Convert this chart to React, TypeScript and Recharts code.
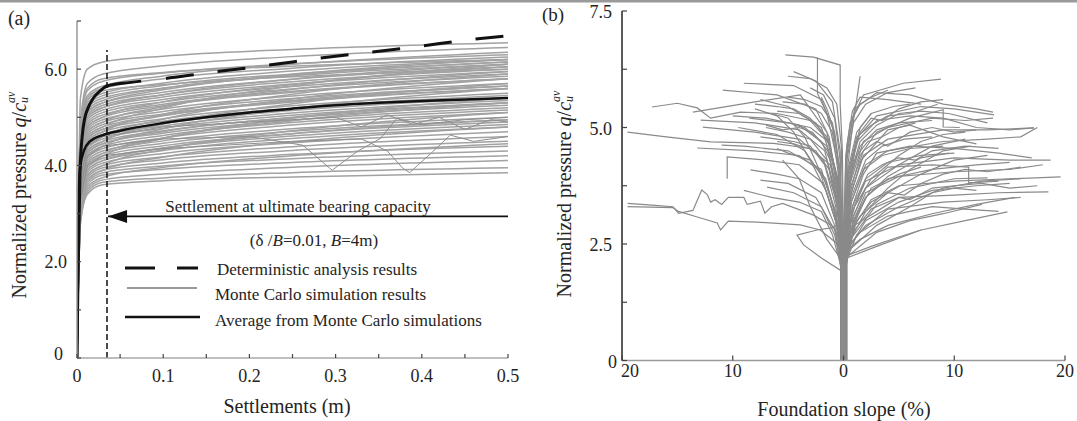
import React from 'react';
import { LineChart, Line, XAxis, YAxis } from 'recharts';

const FONT = '"Liberation Serif", "Times New Roman", serif';
const TEXT = '#242424';

// ---------- Panel (a): pressure vs settlement ----------
const settlementTicks = [0, 0.05, 0.1, 0.15, 0.2, 0.25, 0.3, 0.35, 0.4, 0.45, 0.5];
const settlementTickLabels = ['0', '', '0.1', '', '0.2', '', '0.3', '', '0.4', '', '0.5'];
const pressureTicksA = [0, 1, 2, 3, 4, 5, 6, 7];
const pressureTickLabelsA = ['0', '', '2.0', '', '4.0', '', '6.0', ''];

const monteCarloSettlements = [0, 0.004, 0.012, 0.03, 0.1, 0.25, 0.5];
const monteCarloPressures: number[][] = [
  [0, 5.4, 6.0, 6.15, 6.27, 6.41, 6.55],
  [0, 4.9, 5.7, 5.9, 6.07, 6.26, 6.45],
  [0, 4.8, 5.55, 5.75, 5.92, 6.11, 6.3],
  [0, 4.7, 5.4, 5.6, 5.8, 6.02, 6.25],
  [0, 4.6, 5.3, 5.5, 5.71, 5.96, 6.2],
  [0, 4.6, 5.25, 5.45, 5.66, 5.9, 6.15],
  [0, 4.5, 5.2, 5.4, 5.61, 5.86, 6.1],
  [0, 4.4, 5.1, 5.3, 5.52, 5.79, 6.05],
  [0, 4.4, 5.05, 5.25, 5.47, 5.74, 6.0],
  [0, 4.3, 5.0, 5.2, 5.42, 5.69, 5.95],
  [0, 4.3, 4.95, 5.15, 5.37, 5.64, 5.9],
  [0, 4.2, 4.9, 5.1, 5.32, 5.59, 5.85],
  [0, 4.2, 4.85, 5.05, 5.27, 5.54, 5.8],
  [0, 4.1, 4.8, 5.0, 5.24, 5.52, 5.8],
  [0, 4.1, 4.75, 4.95, 5.17, 5.44, 5.7],
  [0, 4.0, 4.7, 4.9, 5.12, 5.39, 5.65],
  [0, 4.0, 4.65, 4.85, 5.07, 5.34, 5.6],
  [0, 3.9, 4.6, 4.8, 5.04, 5.32, 5.6],
  [0, 3.9, 4.55, 4.75, 4.97, 5.24, 5.5],
  [0, 3.8, 4.5, 4.7, 4.92, 5.19, 5.45],
  [0, 3.8, 4.45, 4.65, 4.87, 5.14, 5.4],
  [0, 3.7, 4.4, 4.6, 4.82, 5.09, 5.35],
  [0, 3.7, 4.35, 4.55, 4.77, 5.04, 5.3],
  [0, 3.6, 4.3, 4.5, 4.72, 4.99, 5.25],
  [0, 3.6, 4.25, 4.45, 4.67, 4.94, 5.2],
  [0, 3.5, 4.2, 4.4, 4.62, 4.89, 5.15],
  [0, 3.5, 4.15, 4.35, 4.57, 4.84, 5.1],
  [0, 3.4, 4.1, 4.3, 4.51, 4.76, 5.0],
  [0, 3.4, 4.05, 4.25, 4.46, 4.71, 4.95],
  [0, 3.3, 4.0, 4.2, 4.41, 4.66, 4.9],
  [0, 3.3, 3.95, 4.15, 4.36, 4.61, 4.85],
  [0, 3.2, 3.9, 4.1, 4.31, 4.56, 4.8],
  [0, 3.2, 3.85, 4.05, 4.25, 4.47, 4.7],
  [0, 3.1, 3.8, 4.0, 4.18, 4.39, 4.6],
  [0, 3.1, 3.75, 3.95, 4.12, 4.31, 4.5],
  [0, 3.0, 3.7, 3.9, 4.05, 4.23, 4.4],
  [0, 3.0, 3.65, 3.85, 3.99, 4.14, 4.3],
  [0, 2.9, 3.6, 3.8, 3.92, 4.06, 4.2],
  [0, 2.9, 3.5, 3.7, 3.82, 3.96, 4.1],
  [0, 2.8, 3.45, 3.65, 3.74, 3.85, 3.95],
  [0, 2.8, 3.4, 3.6, 3.68, 3.76, 3.85],
  [0, 4.6, 5.35, 5.55, 5.68, 5.84, 6.0],
  [0, 4.1, 4.8, 5.0, 5.32, 5.68, 6.05],
  [0, 3.7, 4.4, 4.6, 4.96, 5.38, 5.8],
  [0, 3.3, 4.0, 4.2, 4.56, 4.98, 5.4],
  [0, 4.0, 4.7, 4.9, 5.22, 5.58, 5.95],
  [0, 3.5, 4.2, 4.4, 4.76, 5.18, 5.6],
  [0, 3.9, 4.6, 4.8, 5.19, 5.65, 6.1],
  [0, 4.4, 5.1, 5.3, 5.57, 5.89, 6.2],
  [0, 3.1, 3.8, 4.0, 4.33, 4.72, 5.1],
  [0, 3.0, 3.7, 3.9, 4.17, 4.49, 4.8],
  [0, 4.7, 5.45, 5.65, 5.86, 6.1, 6.35],
  [0, 3.6, 4.3, 4.5, 4.86, 5.28, 5.7],
  [0, 3.8, 4.5, 4.7, 5.06, 5.48, 5.9],
  [0, 4.8, 5.6, 5.8, 5.93, 6.06, 6.2],
  [0, 3.4, 4.05, 4.25, 4.57, 4.93, 5.3],
  [0, 2.9, 3.55, 3.75, 3.96, 4.2, 4.45],
  [0, 4.3, 5.0, 5.2, 5.47, 5.79, 6.1],
  [0, 4.5, 5.15, 5.35, 5.6, 5.88, 6.15],
  [0, 3.9, 4.55, 4.75, 5.03, 5.35, 5.65],
  [0, 3.6, 4.25, 4.45, 4.7, 5.0, 5.3],
  [0, 3.2, 3.9, 4.1, 4.36, 4.66, 4.95],
];

const wigglySettlements1 = [0, 0.004, 0.012, 0.03, 0.1, 0.2, 0.262, 0.296, 0.325, 0.352, 0.371, 0.4, 0.45, 0.5];
const wigglyPressures1 = [0, 3.5, 4.2, 4.4, 4.55, 4.6, 4.42, 3.9, 4.29, 4.56, 4.98, 4.85, 4.95, 5.0];
const wigglySettlements2 = [0, 0.004, 0.012, 0.03, 0.1, 0.25, 0.33, 0.36, 0.378, 0.386, 0.395, 0.413, 0.433, 0.46, 0.5];
const wigglyPressures2 = [0, 3.3, 4.0, 4.2, 4.35, 4.5, 4.55, 4.3, 3.94, 3.85, 4.0, 4.29, 4.63, 4.5, 4.6];
const wigglySettlements3 = [0, 0.004, 0.012, 0.03, 0.1, 0.3, 0.33, 0.36, 0.39, 0.42, 0.45, 0.48, 0.5];
const wigglyPressures3 = [0, 3.7, 4.4, 4.6, 4.8, 5.0, 4.8, 5.05, 4.85, 5.0, 4.75, 4.95, 4.9];

const averageSettlements = [0, 0.002, 0.004, 0.008, 0.015, 0.03, 0.05, 0.1, 0.15, 0.2, 0.25, 0.3, 0.35, 0.4, 0.45, 0.5];
const averagePressures = [0, 3.5, 4.0, 4.3, 4.5, 4.63, 4.72, 4.88, 5.0, 5.1, 5.18, 5.25, 5.3, 5.34, 5.37, 5.4];

const deterministicSettlements = [0, 0.001, 0.0035, 0.006, 0.009, 0.013, 0.019, 0.027, 0.035, 0.06, 0.1, 0.15, 0.2, 0.25, 0.3, 0.35, 0.4, 0.45, 0.5];
const deterministicPressures = [0, 1.5, 3.87, 4.6, 4.98, 5.2, 5.4, 5.55, 5.65, 5.72, 5.8, 5.92, 6.03, 6.15, 6.27, 6.37, 6.48, 6.6, 6.69];

const ultimateSettlement = [0.0348, 0.0348];
const ultimateMarkerPressure = [0, 6.4];
const arrowSettlements = [0.5, 0.036];
const arrowPressures = [2.94, 2.94];

// ---------- Panel (b): pressure vs foundation slope ----------
const slopeTicks = [-20, -10, 0, 10, 20];
const slopeTickLabels = ['20', '10', '0', '10', '20'];
const pressureTicksB = [0, 1.25, 2.5, 3.75, 5, 6.25, 7.5];
const pressureTickLabelsB = ['0', '', '2.5', '', '5.0', '', '7.5'];

const slopeRunsLeft: number[][][] = [
  [[0, 0], [0, 2.2], [-0.4, 3.4], [-1.2, 4.2], [-3, 4.55], [-6.3, 4.66], [-12, 4.69], [-16, 4.8], [-19.5, 4.9]],
  [[-0.2, 0], [-0.2, 2.3], [-0.5, 3.8], [-1.3, 4.7], [-3, 5.15], [-6, 5.3], [-9.3, 5.33], [-12, 5.2], [-13.2, 5.42], [-15, 5.52], [-17.3, 5.44]],
  [[-0.2, 0], [-0.2, 2.5], [-0.9, 2.87], [-2.7, 3.12], [-5.5, 3.37], [-6.5, 3.3], [-7.1, 3.16], [-7.5, 3.42], [-8.7, 3.35], [-9, 3.5], [-10.4, 3.5], [-11, 3.35], [-11.6, 3.45], [-12, 3.4], [-12.3, 3.56], [-12.8, 3.66], [-13.2, 3.44], [-13.6, 3.22], [-14.9, 3.16], [-15.4, 3.3], [-17, 3.33], [-19.5, 3.37]],
  [[0, 0], [0, 2.4], [-2.1, 2.8], [-3.9, 2.91], [-7.8, 2.97], [-10.4, 2.99], [-11.1, 2.8], [-11.4, 2.95], [-13.2, 3.08], [-14.9, 3.2], [-15.4, 3.28], [-19.5, 3.3]],
  [[0.2, 0], [0.2, 1.9], [-0.3, 1.94], [-2, 2.2], [-3.6, 2.48], [-4.2, 2.69], [-2.4, 2.8], [-1, 2.85], [0, 3.0]],
  [[0, 0], [0, 2.4], [-0.1, 4.5], [-0.3, 5.5], [-0.3, 6.34], [-2.7, 6.51], [-5.25, 6.56]],
  [[-0.2, 0], [-0.2, 2.3], [-0.5, 4.2], [-1.5, 5.3], [-2.35, 5.73], [-2.35, 6.51]],
  [[0, 0], [0, 2.2], [-0.3, 4.0], [-1, 5.0], [-2, 5.6], [-4.5, 5.9], [-9, 5.95]],
  [[-0.2, 0], [-0.2, 2.0], [-0.6, 3.8], [-1.3, 4.8], [-2.5, 5.4], [-6, 5.7], [-10.9, 5.8]],
  [[0, 0], [0, 2.1], [-0.5, 3.8], [-1.5, 4.9], [-3.9, 5.7], [-8, 5.55], [-13.6, 5.33]],
  [[-0.2, 0], [-0.2, 2.0], [-0.6, 3.5], [-1.7, 4.5], [-4, 4.95], [-8, 5.1], [-12.9, 5.16]],
  [[0, 0], [0, 2.1], [-0.6, 3.4], [-1.8, 4.3], [-4, 4.75], [-8, 4.9], [-12.7, 5.01]],
  [[-0.2, 0], [-0.2, 2.0], [-0.7, 3.2], [-2, 4.05], [-4, 4.4], [-8, 4.5], [-13.2, 4.56]],
  [[0, 0], [0, 2.0], [-0.7, 3.0], [-1.8, 3.8], [-4, 4.2], [-7, 4.3], [-10.5, 4.37], [-10.5, 3.9]],
  [[-0.2, 0], [-0.2, 1.9], [-0.8, 2.9], [-2, 3.6], [-4, 3.9], [-6, 4.0], [-8.4, 4.09]],
  [[0, 0], [0, 2.0], [-0.8, 2.8], [-2.5, 3.5], [-5, 3.8], [-7.5, 3.87]],
  [[-0.2, 0], [-0.2, 2.0], [-0.8, 2.7], [-2, 3.3], [-4.5, 3.6], [-6.9, 3.72]],
  [[0, 0], [0, 2.2], [-0.7, 3.0], [-1.5, 3.6], [-3, 4.3], [-4.5, 4.9], [-6, 5.25], [-8, 5.4]],
  [[-0.2, 0], [-0.2, 2.2], [-0.6, 2.9], [-1.4, 3.5], [-2.2, 4.1], [-3.5, 4.8], [-5, 5.2], [-6.5, 5.3]],
  [[0, 0], [0, 2.1], [-0.6, 3.0], [-1.5, 3.8], [-3.5, 4.5], [-6, 4.85], [-9.5, 5.0]],
  [[-0.2, 0], [-0.2, 2.4], [-0.3, 4.5], [-1, 5.55], [-2.5, 6.0], [-4.5, 6.2]],
  [[0, 0], [0, 2.2], [-0.4, 3.8], [-2, 5.0], [-5, 5.45], [-7.5, 5.6]],
  [[-0.2, 0], [-0.2, 2.0], [-0.8, 3.2], [-2, 4.1], [-5, 4.5], [-9, 4.6], [-11, 4.62]],
  [[0, 0], [0, 2.1], [-1.5, 2.6], [-3, 3.3], [-4, 3.9], [-5.5, 4.3]],
  [[-0.2, 0], [-0.2, 2.2], [-0.5, 3.6], [-1.5, 4.6], [-4, 5.05], [-7, 5.2], [-10, 5.25]],
  [[0, 0], [0, 2.3], [-0.2, 4.6], [-0.6, 5.5], [-1.5, 5.85], [-3, 6.05], [-5, 6.1]],
  [[-0.2, 0], [-0.2, 2.0], [-1, 2.7], [-2, 3.2], [-4, 3.4], [-6.5, 3.5], [-9, 3.65]],
  [[0, 0], [0, 2.2], [-0.3, 4.0], [-0.8, 4.9], [-1.5, 5.4], [-2, 5.65]],
  [[-0.2, 0], [-0.2, 2.1], [-0.5, 3.6], [-1.2, 4.6], [-2.5, 5.1], [-4, 5.3], [-6, 5.35]],
  [[0, 0], [0, 2.0], [-0.5, 3.3], [-1.5, 4.3], [-3, 4.75], [-5, 4.9], [-7, 5.0]],
  [[-0.2, 0], [-0.2, 2.2], [-0.4, 3.9], [-1, 4.9], [-2, 5.3], [-3.5, 5.5], [-5.5, 5.55]],
  [[0, 0], [0, 2.1], [-0.6, 3.3], [-1.3, 4.1], [-2.5, 4.5], [-4.5, 4.65], [-6, 4.7]],
  [[-0.2, 0], [-0.2, 2.3], [-0.3, 4.3], [-0.8, 5.2], [-1.8, 5.7], [-3, 5.85]],
  [[0, 0], [0, 2.0], [-0.7, 3.1], [-1.6, 3.9], [-3, 4.3], [-5, 4.45], [-6, 4.55]],
  [[-0.2, 0], [-0.2, 2.2], [-0.5, 3.7], [-1.4, 4.7], [-3, 5.0], [-5, 5.1], [-8.5, 5.2]],
  [[0, 0], [0, 2.0], [-0.6, 3.4], [-1.2, 4.3], [-2, 4.7], [-3.5, 5.0], [-4.5, 5.05]],
  [[0, 0], [0, 2.2], [-0.5, 3.9], [-1.5, 4.8], [-3, 5.2], [-4.5, 5.4], [-6, 5.45], [-8, 5.5]],
  [[-0.2, 0], [-0.2, 2.1], [-0.6, 3.6], [-1.4, 4.5], [-2.8, 4.9], [-4, 5.0], [-5.5, 4.95], [-7, 5.05]],
  [[0, 0], [0, 2.3], [-0.4, 4.2], [-1, 5.1], [-2, 5.45], [-3.5, 5.6], [-5, 5.65]],
  [[-0.2, 0], [-0.2, 2.0], [-0.7, 3.3], [-1.7, 4.2], [-3, 4.6], [-4.5, 4.7], [-6, 4.75], [-7.5, 4.8]],
];

const slopeRunsRight: number[][][] = [
  [[0, 0], [0, 2.3], [0.2, 4.2], [0.8, 5.2], [1.8, 5.7], [5.4, 5.95], [8.8, 6.04]],
  [[0.2, 0], [0.2, 2.2], [0.5, 3.9], [1.3, 4.8], [3, 5.25], [7, 5.45], [10, 5.4], [13.6, 5.27]],
  [[0, 0], [0, 2.1], [0.6, 3.8], [1.8, 4.7], [4, 5.0], [8, 5.2], [11, 5.15], [13.5, 5.2]],
  [[0.2, 0], [0.2, 2.0], [0.7, 3.6], [1.8, 4.4], [4, 4.75], [9, 4.95], [13, 4.95], [17.2, 4.99]],
  [[0, 0], [0, 2.1], [0.7, 3.4], [2, 4.2], [4, 4.5], [9, 4.7], [13, 4.75], [16, 4.8], [17.5, 5.0]],
  [[0.2, 0], [0.2, 2.0], [0.8, 3.2], [2, 3.85], [5, 4.2], [10, 4.35], [15, 4.3], [18.7, 4.3]],
  [[0, 0], [0, 2.0], [0.9, 3.0], [2, 3.6], [5, 3.95], [10, 4.05], [15, 4.1], [18, 4.2]],
  [[0.2, 0], [0.2, 2.0], [1, 2.9], [2.5, 3.45], [5, 3.75], [10, 3.85], [15, 3.9], [19.6, 3.94]],
  [[0, 0], [0, 2.1], [1, 2.8], [2.5, 3.25], [5, 3.5], [10, 3.55], [14, 3.6], [18.5, 3.62]],
  [[0.2, 0], [0.2, 2.1], [1.2, 2.7], [4, 3.25], [9, 3.4], [13, 3.45], [16, 3.5]],
  [[0.3, 0], [0.3, 2.2], [3, 2.45], [7, 2.8], [11, 3.0], [14.8, 3.19]],
  [[0.3, 0], [0.3, 2.25], [2.5, 2.45], [5, 2.65], [7, 2.8]],
  [[0, 0], [0, 2.3], [1.5, 2.6], [4, 2.9], [8, 3.15], [12, 3.35], [15.5, 3.5]],
  [[0.2, 0], [0.2, 2.4], [1.5, 2.75], [4, 3.1], [8, 3.3], [11, 3.25], [14, 3.2]],
  [[0, 0], [0, 2.3], [0.3, 4.3], [0.9, 5.1], [2, 5.5], [4, 5.75], [6.5, 5.85]],
  [[0.2, 0], [0.2, 2.4], [0.3, 4.6], [0.8, 5.35], [1.5, 5.65], [4, 5.6], [7, 5.5]],
  [[0, 0], [0, 2.1], [0.6, 3.6], [1.5, 4.4], [3, 4.9], [6, 5.2], [9, 5.38], [9, 5.01], [10.5, 5.0]],
  [[0.2, 0], [0.2, 2.0], [0.9, 3.1], [2, 3.7], [4, 4.15], [8, 4.2], [11.3, 4.15], [11.3, 3.81], [14, 3.85]],
  [[0, 0], [0, 2.0], [0.9, 3.0], [2, 3.5], [4, 3.9], [8, 4.1], [12, 4.2], [15, 4.25]],
  [[0.2, 0], [0.2, 2.2], [0.4, 4.0], [1.2, 4.7], [3, 5.15], [6, 5.25], [9, 5.2], [12, 5.0], [15, 4.95], [17.2, 4.99]],
  [[0, 0], [0, 2.6], [2, 3.7], [5, 4.2], [8, 4.6], [11, 4.75]],
  [[0.2, 0], [0.2, 2.5], [2, 3.5], [4, 3.95], [7, 4.35], [9.5, 4.45]],
  [[0, 0], [0, 2.4], [3, 3.35], [6, 3.7], [10, 3.9], [13, 3.92]],
  [[0.2, 0], [0.2, 2.2], [3, 2.75], [6, 3.0], [9, 3.15], [12.5, 3.35]],
  [[0, 0], [0, 2.2], [0.5, 3.9], [1.5, 4.7], [3, 5.05], [5, 5.3], [7, 5.35], [9.5, 5.3], [13, 5.1]],
  [[0.2, 0], [0.2, 2.0], [0.8, 3.3], [1.8, 4.0], [3, 4.45], [6, 4.6], [10, 4.55], [14, 4.45], [17, 4.35]],
  [[0, 0], [0, 2.1], [0.6, 3.5], [1.6, 4.3], [4, 4.95], [6, 5.05], [9, 4.8], [12, 4.65]],
  [[0.2, 0], [0.2, 2.3], [2, 3.0], [5, 3.4], [8, 3.65], [12, 3.75], [15, 3.8]],
  [[0, 0], [0, 2.4], [0.2, 4.4], [0.6, 5.1], [1.5, 5.5], [2.5, 5.65], [4, 5.8]],
  [[0.2, 0], [0.2, 2.3], [0.4, 4.2], [0.8, 5.0], [1.2, 5.6], [1.5, 6.1]],
  [[0, 0], [0, 2.2], [0.5, 3.6], [1, 4.5], [1.5, 5.0], [2.5, 5.3]],
  [[0, 0], [0, 2.2], [0.5, 3.8], [1.5, 4.6], [3, 4.95], [5, 5.1], [8, 5.15]],
  [[0.2, 0], [0.2, 2.1], [0.7, 3.4], [1.8, 4.1], [3.5, 4.4], [6, 4.55], [9, 4.6]],
  [[0, 0], [0, 2.0], [0.8, 3.2], [2, 3.9], [4, 4.25], [7, 4.4], [10, 4.45]],
  [[0.2, 0], [0.2, 2.2], [0.4, 4.1], [1.2, 4.9], [2.5, 5.3], [4.5, 5.45], [6, 5.5]],
  [[0, 0], [0, 2.1], [0.7, 3.5], [2, 4.3], [3.5, 4.6], [5.5, 4.75], [8, 4.8]],
  [[0.2, 0], [0.2, 2.0], [1, 3.0], [2.5, 3.7], [5, 4.0], [7, 4.15]],
  [[0, 0], [0, 2.2], [0.4, 4.0], [1.2, 4.8], [2.5, 5.05], [4, 5.25], [6, 5.3], [8.5, 5.5]],
  [[0.2, 0], [0.2, 2.3], [3, 2.9], [6, 3.3], [8, 3.6], [10, 3.7], [12, 3.65]],
  [[0, 0], [0, 2.5], [1.5, 3.1], [4, 3.6], [7, 4.0], [10, 4.3], [13, 4.4]],
  [[0.2, 0], [0.2, 2.4], [2, 3.2], [4, 3.7], [6, 4.1], [9, 4.5], [11.5, 4.6]],
  [[0, 0], [0, 2.3], [2, 2.9], [5, 3.3], [9, 3.7], [12.5, 3.85], [16, 3.9]],
  [[0.2, 0], [0.2, 2.3], [0.3, 4.5], [1, 5.4], [3, 5.75], [6, 5.7], [9, 5.5], [12, 5.4], [13.5, 5.33]],
  [[0, 0], [0, 2.2], [0.5, 4.0], [1.5, 4.9], [2.5, 5.2], [3.5, 5.15], [5, 5.4], [7, 5.55], [9, 5.6]],
  [[0.2, 0], [0.2, 2.1], [0.6, 3.7], [1.8, 4.5], [3, 4.7], [4, 4.6], [6, 4.9], [8, 5.0], [10, 4.9], [12, 4.95]],
  [[0, 0], [0, 2.0], [0.8, 3.3], [2.2, 4.0], [3.5, 4.2], [5, 4.35], [6.5, 4.3], [8, 4.5], [11, 4.6], [14, 4.55]],
  [[0.2, 0], [0.2, 2.2], [1.2, 3.0], [2.5, 3.4], [4, 3.6], [5.5, 3.55], [7, 3.8], [9, 4.0], [11, 4.1], [13, 4.05], [16, 4.15]],
  [[0, 0], [0, 2.4], [1, 2.9], [3, 3.2], [5, 3.5], [6, 3.45], [8, 3.7], [10, 3.75], [12.5, 3.8], [15, 3.7], [17.5, 3.75]],
  [[0.2, 0], [0.2, 2.6], [1, 3.3], [2.5, 3.9], [3.5, 4.1], [5, 4.4], [7, 4.7], [9, 4.85], [11, 4.9]],
  [[0, 0], [0, 2.2], [0.5, 3.8], [1.2, 4.4], [2.2, 4.7], [3.5, 4.8], [5, 5.0], [6.5, 5.1]],
];

// ---------- helpers ----------
type Pt = { x: number; y: number };
const zip = (xs: number[], ys: number[]): Pt[] => xs.map((x, i) => ({ x, y: ys[i] }));
const fromPairs = (pairs: number[][]): Pt[] => pairs.map(([x, y]) => ({ x, y }));

function makeXTick(ticks: number[], labels: string[], baselineDy: number, tickLen: number, firstDx: number, tickColor: string) {
  return (props: any) => {
    const { x, y, payload } = props;
    const i = ticks.indexOf(payload.value);
    const label = labels[i] ?? '';
    return (
      <g>
        <line x1={x} x2={x} y1={y} y2={y - tickLen} stroke={tickColor} strokeWidth={1.2} />
        {label ? (
          <text x={x + (i === 0 ? firstDx : 0)} y={y + baselineDy} textAnchor="middle" fontFamily={FONT} fontSize={18} fill={TEXT}>
            {label}
          </text>
        ) : null}
      </g>
    );
  };
}

function makeYTick(ticks: number[], labels: string[], gap: number, dy: number, zeroGap: number, zeroDy: number, tickLen: number, tickColor: string) {
  return (props: any) => {
    const { x, y, payload } = props;
    const i = ticks.indexOf(payload.value);
    const label = labels[i] ?? '';
    const zero = i === 0;
    return (
      <g>
        <line x1={x} x2={x + tickLen} y1={y} y2={y} stroke={tickColor} strokeWidth={1.2} />
        {label ? (
          <text x={x - (zero ? zeroGap : gap)} y={y + (zero ? zeroDy : dy)} textAnchor="end" fontFamily={FONT} fontSize={18} fill={TEXT}>
            {label}
          </text>
        ) : null}
      </g>
    );
  };
}

const XTickA = makeXTick(settlementTicks, settlementTickLabels, 24, 4, 0, '#444');
const YTickA = makeYTick(pressureTicksA, pressureTickLabelsA, 10, 6.5, 14, 1.5, 4, '#444');
const XTickB = makeXTick(slopeTicks, slopeTickLabels, 16.5, 5, 8, '#444');
const YTickB = makeYTick(pressureTicksB, pressureTickLabelsB, 10, 7, 5, 7.5, 5, '#444');

const ArrowHead = (props: any) => {
  const { cx, cy, index } = props;
  if (index !== 1 || cx == null || cy == null) return <g key={`ah-${index}`} />;
  return <path key="ah-tip" d={`M${cx},${cy} L${cx + 19},${cy - 6.5} L${cx + 19},${cy + 6.5} Z`} fill="#111" />;
};

const dashedPattern = '315 25 28 24 28 24 28 24 28 24 28 24 28 24 28 24 28 24 28 24';

const YTitle = ({ x, y }: { x: number; y: number }) => (
  <text transform={`translate(${x},${y}) rotate(-90)`} textAnchor="middle" dominantBaseline="central" fontFamily={FONT} fontSize={20} fill={TEXT}>
    {'Normalized pressure '}
    <tspan fontStyle="italic">q</tspan>
    {'/'}
    <tspan fontStyle="italic">c</tspan>
    <tspan fontStyle="italic" fontSize={12} dy={5}>u</tspan>
    <tspan fontStyle="italic" fontSize={12} dx={-6} dy={-13}>av</tspan>
  </text>
);

export default function App() {
  const grayRuns = monteCarloPressures.map((ys) => zip(monteCarloSettlements, ys));
  const wiggly = [
    zip(wigglySettlements1, wigglyPressures1),
    zip(wigglySettlements2, wigglyPressures2),
    zip(wigglySettlements3, wigglyPressures3),
  ];
  const average = zip(averageSettlements, averagePressures);
  const deterministic = zip(deterministicSettlements, deterministicPressures);
  const ultimate = zip(ultimateSettlement, ultimateMarkerPressure);
  const arrow = zip(arrowSettlements, arrowPressures);
  const runsB = [...slopeRunsLeft, ...slopeRunsRight].map(fromPairs);

  return (
    <div style={{ position: 'absolute', left: 0, top: 0, width: 1077, height: 421, background: '#fff', overflow: 'hidden' }}>
      <div style={{ position: 'absolute', left: 0, top: 0 }}>
        <LineChart width={540} height={421} margin={{ top: 21, right: 32, bottom: 33, left: 37 }}>
          <XAxis
            type="number"
            dataKey="x"
            domain={[0, 0.5]}
            allowDataOverflow
            ticks={settlementTicks}
            interval={0}
            height={30}
            tickSize={0}
            tickMargin={0}
            tickLine={false}
            axisLine={{ stroke: '#a8a8a8', strokeWidth: 1.5 }}
            tick={XTickA}
          />
          <YAxis
            type="number"
            domain={[0, 7]}
            allowDataOverflow
            ticks={pressureTicksA}
            interval={0}
            width={40}
            tickSize={0}
            tickMargin={0}
            tickLine={false}
            axisLine={{ stroke: '#999', strokeWidth: 1.5 }}
            tick={YTickA}
          />
          {grayRuns.map((d, i) => (
            <Line key={`g${i}`} data={d} dataKey="y" type="monotone" stroke="#a2a2a2" strokeWidth={1.5} dot={false} activeDot={false} isAnimationActive={false} />
          ))}
          {wiggly.map((d, i) => (
            <Line key={`w${i}`} data={d} dataKey="y" type="linear" stroke="#8e8e8e" strokeWidth={1} dot={false} activeDot={false} isAnimationActive={false} />
          ))}
          <Line data={deterministic} dataKey="y" type="monotone" stroke="#111" strokeWidth={3} strokeDasharray={dashedPattern} dot={false} activeDot={false} isAnimationActive={false} />
          <Line data={average} dataKey="y" type="monotone" stroke="#111" strokeWidth={2.5} dot={false} activeDot={false} isAnimationActive={false} />
          <Line data={ultimate} dataKey="y" type="linear" stroke="#111" strokeWidth={1.5} strokeDasharray="6 3" dot={false} activeDot={false} isAnimationActive={false} />
          <Line data={arrow} dataKey="y" type="linear" stroke="#111" strokeWidth={1.8} dot={ArrowHead} activeDot={false} isAnimationActive={false} />
        </LineChart>
      </div>

      <div style={{ position: 'absolute', left: 540, top: 0 }}>
        <LineChart width={537} height={421} margin={{ top: 11, right: 12, bottom: 30.5, left: 42 }}>
          <XAxis
            type="number"
            dataKey="x"
            domain={[-20, 20]}
            allowDataOverflow
            ticks={slopeTicks}
            interval={0}
            height={30}
            tickSize={0}
            tickMargin={0}
            tickLine={false}
            axisLine={{ stroke: '#9a9a9a', strokeWidth: 1.5 }}
            tick={XTickB}
          />
          <YAxis
            type="number"
            domain={[0, 7.5]}
            allowDataOverflow
            ticks={pressureTicksB}
            interval={0}
            width={40}
            tickSize={0}
            tickMargin={0}
            tickLine={false}
            axisLine={{ stroke: '#5a5a5a', strokeWidth: 2 }}
            tick={YTickB}
          />
          {runsB.map((d, i) => (
            <Line key={`b${i}`} data={d} dataKey="y" type="linear" stroke="#8a8a8a" strokeWidth={1.2} dot={false} activeDot={false} isAnimationActive={false} />
          ))}
        </LineChart>
      </div>

      <svg width={1077} height={421} style={{ position: 'absolute', left: 0, top: 0, pointerEvents: 'none' }}>
        <rect x={0} y={0} width={1077} height={2.5} fill="#9a9a9a" />
        <text x={19} y={25} textAnchor="middle" fontFamily={FONT} fontSize={20} fill={TEXT}>(a)</text>
        <text x={553} y={21} textAnchor="middle" fontFamily={FONT} fontSize={19} fill={TEXT}>(b)</text>

        <YTitle x={19} y={195} />
        <YTitle x={564} y={194} />
        <text x={287} y={413} textAnchor="middle" fontFamily={FONT} fontSize={20} fill={TEXT}>Settlements (m)</text>
        <text x={844} y={416} textAnchor="middle" fontFamily={FONT} fontSize={20} fill={TEXT}>Foundation slope (%)</text>

        <text x={298} y={212} textAnchor="middle" fontFamily={FONT} fontSize={17} fill={TEXT}>Settlement at ultimate bearing capacity</text>
        <text x={314} y={246} textAnchor="middle" fontFamily={FONT} fontSize={17} fill={TEXT}>
          {'(δ /'}
          <tspan fontStyle="italic">B</tspan>
          {'=0.01, '}
          <tspan fontStyle="italic">B</tspan>
          {'=4m)'}
        </text>

        <line x1={125} x2={198} y1={268} y2={268} stroke="#111" strokeWidth={3} strokeDasharray="30 22" />
        <line x1={127} x2={197} y1={288} y2={288} stroke="#999" strokeWidth={2} />
        <line x1={125} x2={200} y1={317} y2={317} stroke="#111" strokeWidth={2.5} />
        <text x={217} y={275} fontFamily={FONT} fontSize={17} fill={TEXT}>Deterministic analysis results</text>
        <text x={215} y={300} fontFamily={FONT} fontSize={17} fill={TEXT}>Monte Carlo simulation results</text>
        <text x={215} y={326} fontFamily={FONT} fontSize={17} fill={TEXT}>Average from Monte Carlo simulations</text>
      </svg>
    </div>
  );
}
